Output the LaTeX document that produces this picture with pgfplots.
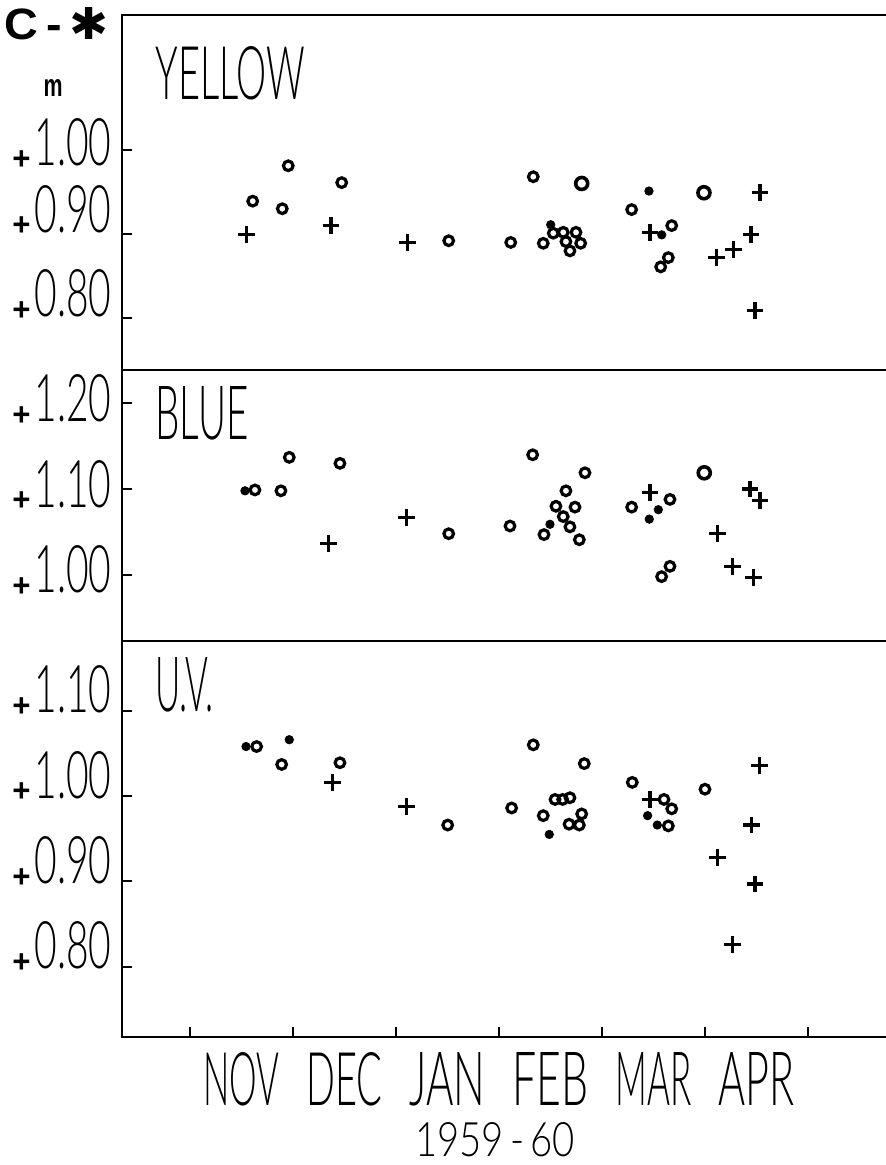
\documentclass[border=0pt]{standalone}
\usepackage{pgfplots}
\pgfplotsset{compat=1.18}
\usepackage{fontspec}
\setmainfont{Liberation Sans}
\newfontfamily\lt{Lato Light}
\newfontfamily\djv{DejaVu Sans}
\usepackage{graphicx}

\newcommand{\tl}[1]{\raisebox{-1.9pt}{\resizebox{9.1pt}{9.4pt}{\bfseries +}}\hspace{2pt}\resizebox{38.5pt}{23.5pt}{\lt #1}}
\newcommand{\mon}[1]{\resizebox{38pt}{26.5pt}{\lt #1}}

\pgfplotsset{
 panel/.style={
  scale only axis, width=383pt, xmin=-0.66, xmax=6.777,
  axis line style={line width=1.1pt},
  tick style={line width=1.1pt, black},
  tick align=inside, major tick length=5pt,
  ytick pos=left,
  clip=false,
  anchor=south west,
  yticklabel style={anchor=base east, inner sep=0pt, xshift=-5pt},
 },
 co/.style={only marks, mark=o, mark size=2.4pt, line width=1.6pt, black},
 cb/.style={only marks, mark=o, mark size=3pt, line width=1.8pt, black},
 dt/.style={only marks, mark=*, mark size=2.1pt, black},
 pl/.style={only marks, mark=+, mark size=4.2pt, line width=1.6pt, black},
}

\begin{document}
\begin{tikzpicture}
\path[use as bounding box] (0,0) rectangle (442.5pt,582.5pt);

% YELLOW
\begin{axis}[panel, at={(61pt,397.5pt)}, height=177.5pt,
  ymin=0.7386, ymax=1.160, xtick=\empty,
  ytick={0.8,0.9,1.0},
  yticklabels={\tl{0.80},\tl{0.90},\raisebox{-9pt}{\tl{1.00}}},
  yticklabel style={yshift=1pt}]
\addplot[co] coordinates {(0.954,0.981)(1.473,0.961)(0.609,0.939)(0.896,0.930)(2.512,0.892)(3.333,0.968)(4.288,0.929)
 (3.527,0.901)(3.624,0.902)(3.748,0.902)(3.650,0.891)(3.793,0.889)(3.689,0.880)(3.430,0.889)(3.114,0.890)
 (4.677,0.910)(4.644,0.872)(4.570,0.861)};
\addplot[cb] coordinates {(3.803,0.960)(4.990,0.949)};
\addplot[dt] coordinates {(4.456,0.951)(3.502,0.911)(4.580,0.899)};
\addplot[pl] coordinates {(0.550,0.899)(1.369,0.910)(2.114,0.890)(5.534,0.949)(4.466,0.902)(5.447,0.899)(5.275,0.882)(5.114,0.872)(5.485,0.809)};
\node[anchor=base west, inner sep=0pt] at (rel axis cs:0.0431,0.7606) {\resizebox{75pt}{26.5pt}{\lt YELLOW}};
\end{axis}

% BLUE
\begin{axis}[panel, at={(61pt,262pt)}, height=135.5pt,
  ymin=0.923, ymax=1.2388, xtick=\empty,
  ytick={1.0,1.1,1.2},
  yticklabels={\tl{1.00},\tl{1.10},\tl{1.20}},
  yticklabel style={yshift=-9pt}]
\addplot[co] coordinates {(0.964,1.137)(1.456,1.130)(0.631,1.099)(0.883,1.098)(2.512,1.048)(3.327,1.140)(3.835,1.119)
 (3.650,1.098)(4.660,1.088)(4.288,1.079)(3.553,1.080)(3.738,1.079)(3.624,1.068)(3.689,1.056)(3.437,1.047)(3.780,1.041)
 (3.107,1.057)(4.660,1.010)(4.579,0.998)};
\addplot[cb] coordinates {(4.993,1.119)};
\addplot[dt] coordinates {(0.534,1.098)(4.547,1.076)(4.459,1.065)(3.495,1.059)};
\addplot[pl] coordinates {(2.104,1.067)(1.343,1.037)(5.437,1.100)(5.534,1.087)(4.466,1.096)(5.120,1.048)(5.269,1.010)(5.469,0.997)};
\node[anchor=base west, inner sep=0pt] at (rel axis cs:0.0431,0.7417) {\resizebox{46.5pt}{26.5pt}{\lt BLUE}};
\end{axis}

% U.V.
\begin{axis}[panel, at={(61pt,64pt)}, height=198pt,
  ymin=0.7176, ymax=1.1817,
  ytick={0.8,0.9,1.0,1.1},
  yticklabels={\tl{0.80},\tl{0.90},\tl{1.00},\tl{1.10}},
  yticklabel style={yshift=-1pt},
  xtick pos=bottom,
  xtick={0,1,2,3,4,5,6}, xticklabels={,,,,,,},
  extra x ticks={0.5,1.5,2.5,3.5,4.5,5.5},
  extra x tick labels={\mon{NOV},\mon{DEC},\mon{JAN},\mon{FEB},\mon{MAR},\mon{APR}},
  extra x tick style={tick style={draw=none}, xticklabel style={anchor=north, inner sep=0pt, yshift=-7.5pt}}]
\addplot[co] coordinates {(0.647,1.058)(0.890,1.037)(1.456,1.039)(2.502,0.966)(3.333,1.060)(3.828,1.038)(4.294,1.016)
 (5.000,1.008)(3.123,0.986)(3.544,0.996)(3.618,0.996)(3.689,0.998)(3.430,0.977)(3.680,0.967)(3.780,0.966)(3.803,0.979)
 (4.602,0.996)(4.677,0.985)(4.644,0.965)};
\addplot[dt] coordinates {(0.544,1.058)(0.964,1.066)(3.488,0.955)(4.443,0.977)(4.537,0.966)};
\addplot[pl] coordinates {(1.382,1.016)(2.104,0.988)(4.466,0.996)(5.527,1.036)(5.453,0.966)(5.120,0.928)(5.485,0.897)(5.269,0.826)};
\node[anchor=base west, inner sep=0pt] at (rel axis cs:0.0431,0.8207) {\resizebox{29pt}{27pt}{\lt U.V.}};
\node[anchor=base, inner sep=0pt] at (rel axis cs:0.487,-0.3030) {\resizebox{80pt}{17pt}{\lt 1959\,-\,60}};
\end{axis}

\node[inner sep=0pt] at (28.5pt,570.5pt) {\resizebox{52pt}{16pt}{\bfseries C\,-\,{\djv\bfseries ✱}}};
\node[inner sep=0pt] at (26.5pt,538.5pt) {\resizebox{9.5pt}{8.5pt}{\bfseries m}};
\end{tikzpicture}
\end{document}
